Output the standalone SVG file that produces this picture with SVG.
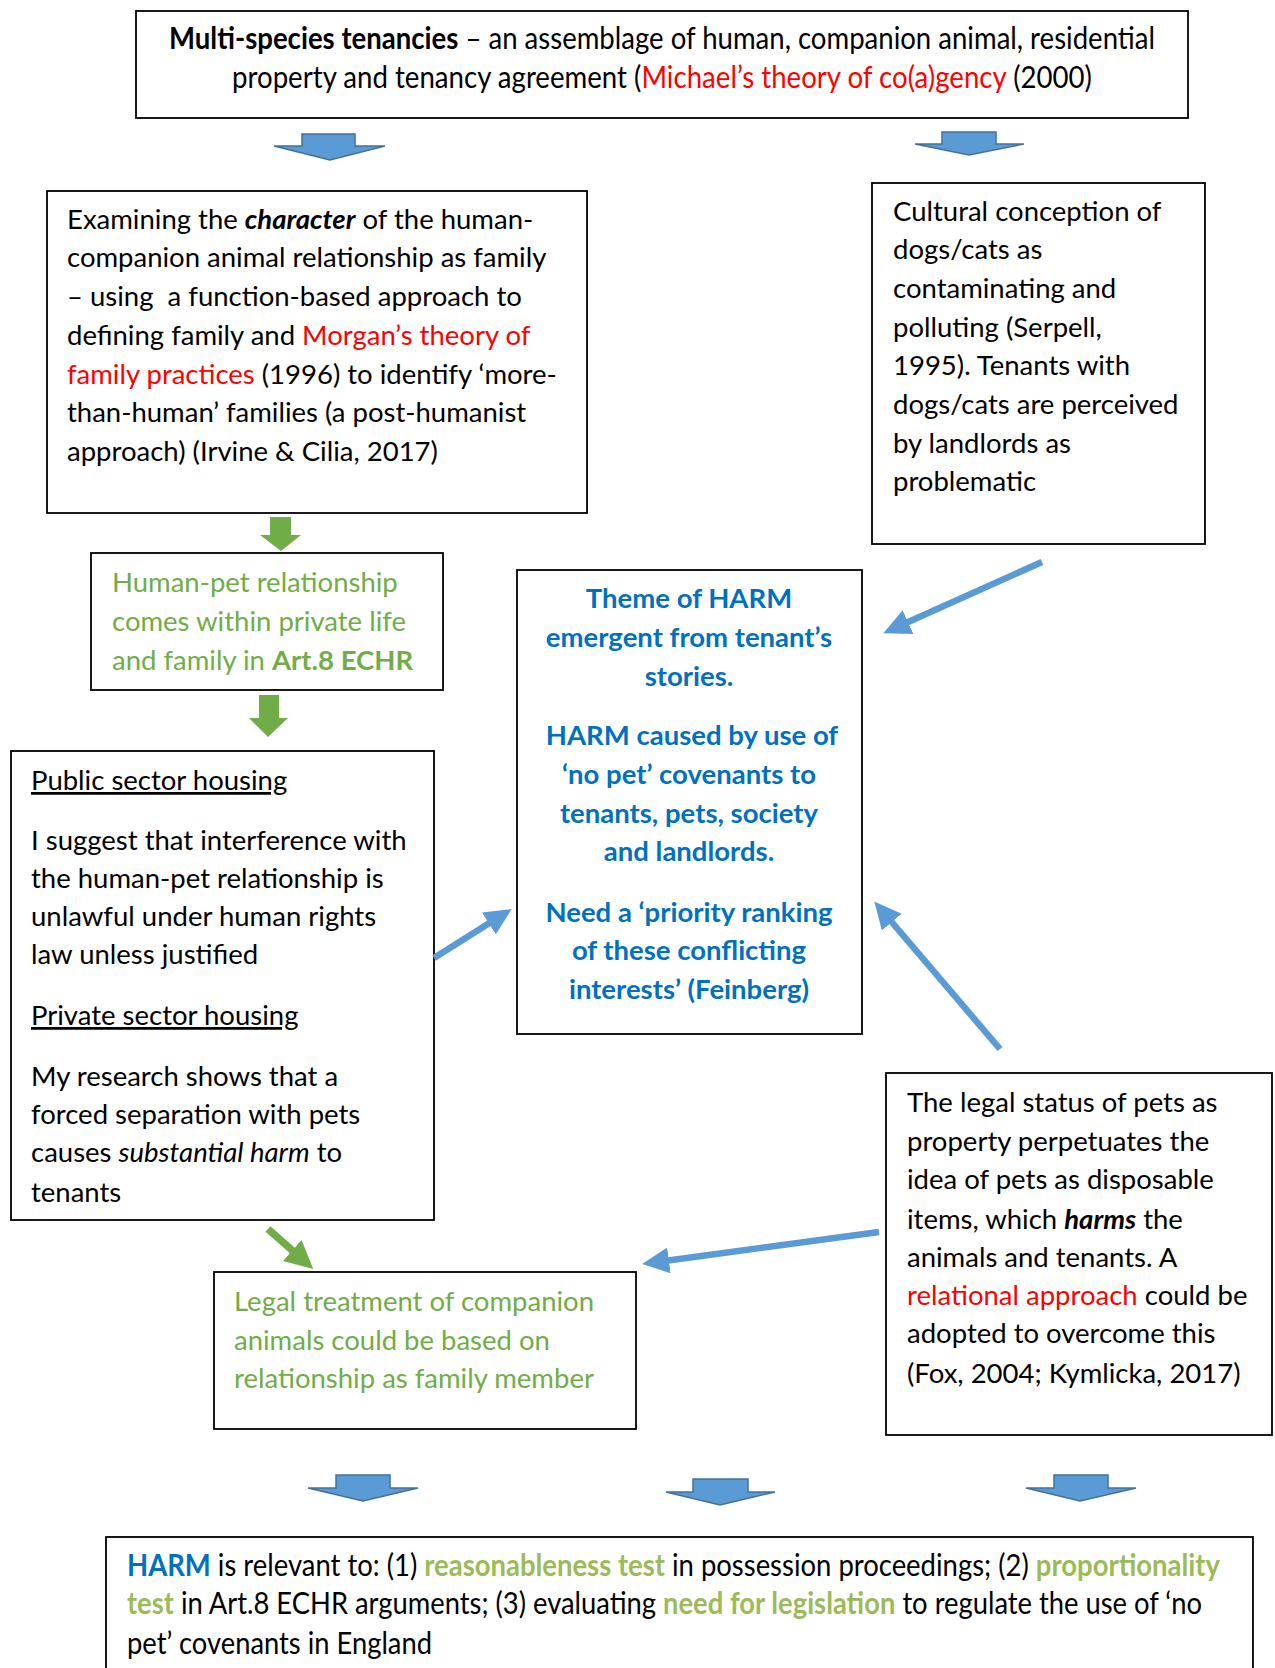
<svg xmlns="http://www.w3.org/2000/svg" width="1275" height="1668" viewBox="0 0 1275 1668">
  <style>
    .box { fill: #fff; stroke: #000; stroke-width: 1.8; }
    .t { font-family: Lato, "Liberation Sans", sans-serif; font-size: 27.5px; fill: #000; }
    .tc { font-family: Lato, "Liberation Sans", sans-serif; font-size: 31px; fill: #000; }
    .b { font-weight: bold; }
    .i { font-style: italic; }
    .red { fill: #FF0000; }
    .green { fill: #70AD47; }
    .olive { fill: #9BBB59; font-weight: bold; }
    .blue { fill: #0070C0; font-weight: bold; }
    .mid { text-anchor: middle; }
    .u { text-decoration: underline; }
    .block { fill: #5B9BD5; stroke: #41719C; stroke-width: 1.5; }
    .gblock { fill: #70AD47; }
    .link { stroke: #5B9BD5; stroke-width: 6.5; fill: none; }
    .glink { stroke: #70AD47; stroke-width: 7.5; fill: none; }
  </style>
  <defs>
    <!-- heads reach 15px past the end of their line -->
    <marker id="headBlue" viewBox="0 0 27 26" refX="12" refY="13" markerWidth="27" markerHeight="26" markerUnits="userSpaceOnUse" orient="auto">
      <path d="M0,0 L27,13 L0,26 Z" fill="#5B9BD5"/>
    </marker>
    <marker id="headGreen" viewBox="0 0 28 28" refX="13" refY="14" markerWidth="28" markerHeight="28" markerUnits="userSpaceOnUse" orient="auto">
      <path d="M0,0 L28,14 L0,28 Z" fill="#70AD47"/>
    </marker>
  </defs>

  <rect width="1275" height="1668" fill="#fff"/>

  <!-- top: multi-species tenancies -->
  <g id="tenancies">
    <rect class="box" x="136" y="11" width="1052" height="107"/>
    <text class="tc mid" x="662" y="49" textLength="986" lengthAdjust="spacingAndGlyphs"><tspan class="b">Multi-species tenancies</tspan> – an assemblage of human, companion animal, residential</text>
    <text class="tc mid" x="662" y="88" textLength="860" lengthAdjust="spacingAndGlyphs">property and tenancy agreement (<tspan class="red">Michael’s theory of co(a)gency</tspan> (2000)</text>
  </g>

  <!-- character of the relationship -->
  <g id="character">
    <rect class="box" x="47" y="191" width="540" height="322"/>
    <text class="t" x="67" y="229">Examining the <tspan class="b i">character</tspan> of the human-</text>
    <text class="t" x="67" y="267">companion animal relationship as family</text>
    <text class="t" x="67" y="306" style="white-space:pre">– using  a function-based approach to</text>
    <text class="t" x="67" y="345">defining family and <tspan class="red">Morgan’s theory of</tspan></text>
    <text class="t" x="67" y="384"><tspan class="red">family practices</tspan> (1996) to identify ‘more-</text>
    <text class="t" x="67" y="422">than-human’ families (a post-humanist</text>
    <text class="t" x="67" y="461">approach) (Irvine &amp; Cilia, 2017)</text>
  </g>

  <!-- cultural conception -->
  <g id="cultural">
    <rect class="box" x="872" y="183" width="333" height="361"/>
    <text class="t" x="893" y="221">Cultural conception of</text>
    <text class="t" x="893" y="259">dogs/cats as</text>
    <text class="t" x="893" y="298">contaminating and</text>
    <text class="t" x="893" y="337">polluting (Serpell,</text>
    <text class="t" x="893" y="375">1995). Tenants with</text>
    <text class="t" x="893" y="414">dogs/cats are perceived</text>
    <text class="t" x="893" y="453">by landlords as</text>
    <text class="t" x="893" y="491">problematic</text>
  </g>

  <!-- Art.8 ECHR -->
  <g id="art8">
    <rect class="box" x="91" y="553" width="352" height="137"/>
    <text class="t green" x="112" y="592">Human-pet relationship</text>
    <text class="t green" x="112" y="631">comes within private life</text>
    <text class="t green" x="112" y="670">and family in <tspan class="b">Art.8 ECHR</tspan></text>
  </g>

  <!-- theme of harm -->
  <g id="harm">
    <rect class="box" x="517" y="570" width="345" height="464"/>
    <text class="t blue mid" x="689" y="608">Theme of HARM</text>
    <text class="t blue mid" x="689" y="647">emergent from tenant’s</text>
    <text class="t blue mid" x="689" y="686">stories.</text>
    <text class="t blue mid" x="692" y="745">HARM caused by use of</text>
    <text class="t blue mid" x="689" y="784">‘no pet’ covenants to</text>
    <text class="t blue mid" x="689" y="823">tenants, pets, society</text>
    <text class="t blue mid" x="689" y="861">and landlords.</text>
    <text class="t blue mid" x="689" y="922">Need a ‘priority ranking</text>
    <text class="t blue mid" x="689" y="960">of these conflicting</text>
    <text class="t blue mid" x="689" y="999">interests’ (Feinberg)</text>
  </g>

  <!-- public and private sector housing -->
  <g id="housing">
    <rect class="box" x="11" y="751" width="423" height="469"/>
    <text class="t u" x="31" y="790">Public sector housing</text>
    <text class="t" x="31" y="850">I suggest that interference with</text>
    <text class="t" x="31" y="888">the human-pet relationship is</text>
    <text class="t" x="31" y="926">unlawful under human rights</text>
    <text class="t" x="31" y="964">law unless justified</text>
    <text class="t u" x="31" y="1025">Private sector housing</text>
    <text class="t" x="31" y="1086">My research shows that a</text>
    <text class="t" x="31" y="1124">forced separation with pets</text>
    <text class="t" x="31" y="1162">causes <tspan class="i">substantial harm</tspan> to</text>
    <text class="t" x="31" y="1202">tenants</text>
  </g>

  <!-- legal treatment -->
  <g id="legal-treatment">
    <rect class="box" x="214" y="1272" width="422" height="157"/>
    <text class="t green" x="234" y="1311">Legal treatment of companion</text>
    <text class="t green" x="234" y="1350">animals could be based on</text>
    <text class="t green" x="234" y="1388">relationship as family member</text>
  </g>

  <!-- legal status -->
  <g id="legal-status">
    <rect class="box" x="886" y="1073" width="386" height="362"/>
    <text class="t" x="907" y="1112">The legal status of pets as</text>
    <text class="t" x="907" y="1151">property perpetuates the</text>
    <text class="t" x="907" y="1189">idea of pets as disposable</text>
    <text class="t" x="907" y="1229">items, which <tspan class="b i">harms</tspan> the</text>
    <text class="t" x="907" y="1267">animals and tenants. A</text>
    <text class="t" x="907" y="1305"><tspan class="red">relational approach</tspan> could be</text>
    <text class="t" x="907" y="1343">adopted to overcome this</text>
    <text class="t" x="907" y="1383">(Fox, 2004; Kymlicka, 2017)</text>
  </g>

  <!-- relevance of harm -->
  <g id="relevance">
    <rect class="box" x="106" y="1537" width="1147" height="160"/>
    <text class="tc" x="127" y="1576" textLength="1093" lengthAdjust="spacingAndGlyphs"><tspan class="blue">HARM</tspan> is relevant to: (1) <tspan class="olive">reasonableness test</tspan> in possession proceedings; (2) <tspan class="olive">proportionality</tspan></text>
    <text class="tc" x="127" y="1614" textLength="1075" lengthAdjust="spacingAndGlyphs"><tspan class="olive">test</tspan> in Art.8 ECHR arguments; (3) evaluating <tspan class="olive">need for legislation</tspan> to regulate the use of ‘no</text>
    <text class="tc" x="127" y="1654" textLength="305" lengthAdjust="spacingAndGlyphs">pet’ covenants in England</text>
  </g>

  <!-- connectors -->
  <g id="connectors">
    <!-- block arrows below the top box -->
    <path class="block" d="M302,134 H355 V146 H385 L330,160 L274,146 H302 Z"/>
    <path class="block" d="M942,132 H996 V144 H1024 L969,155 L915,144 H942 Z"/>
    <!-- green block arrows down the left column -->
    <path class="gblock" d="M270,517 H291 V535 H301 L281,551 L260,535 H270 Z"/>
    <path class="gblock" d="M259,695 H279 V718 H288 L268,737 L249,718 H259 Z"/>
    <!-- links into the harm theme -->
    <line class="link" x1="1042" y1="562" x2="897" y2="627" marker-end="url(#headBlue)"/>
    <line class="link" x1="434" y1="958" x2="499" y2="917" marker-end="url(#headBlue)"/>
    <line class="link" x1="1000" y1="1049" x2="884" y2="913" marker-end="url(#headBlue)"/>
    <line class="link" x1="879" y1="1232" x2="657" y2="1262" marker-end="url(#headBlue)"/>
    <line class="glink" x1="268" y1="1229" x2="302" y2="1259" marker-end="url(#headGreen)"/>
    <!-- block arrows above the bottom box -->
    <path class="block" d="M336,1475 H390 V1488 H418 L363,1501 L308,1488 H336 Z"/>
    <path class="block" d="M693,1479 H748 V1492 H775 L720,1505 L666,1492 H693 Z"/>
    <path class="block" d="M1054,1475 H1108 V1488 H1136 L1080,1501 L1026,1488 H1054 Z"/>
  </g>
</svg>
